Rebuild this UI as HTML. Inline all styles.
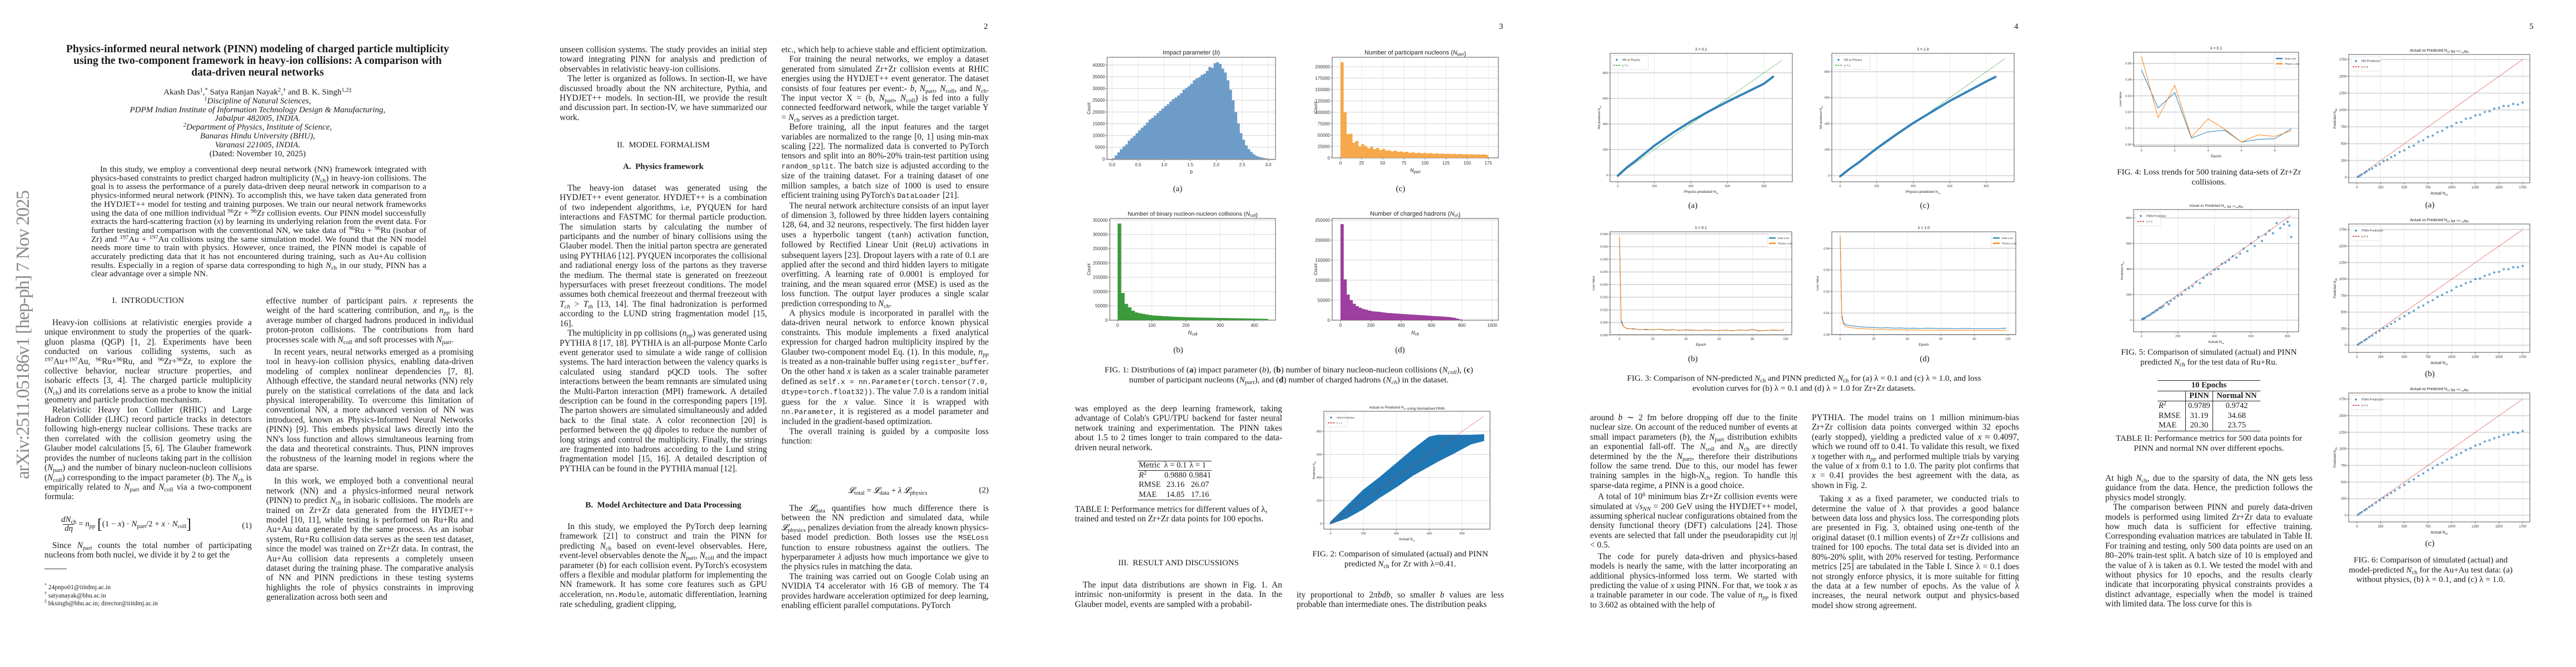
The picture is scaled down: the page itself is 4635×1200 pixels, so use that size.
<!DOCTYPE html>
<html><head><meta charset="utf-8"><title>PINN paper pages</title>
<style>
html,body{margin:0;padding:0;background:#fff;}
body{width:4635px;height:1200px;position:relative;overflow:hidden;font-family:"Liberation Serif",serif;color:#1a1a1a;}
.a{position:absolute;}
.col{position:absolute;width:373px;font-size:15.4px;line-height:17.4px;text-align:justify;overflow:hidden;}
.col p{margin:0;text-indent:14px;}
.col p.ni{text-indent:0;}
.h{position:absolute;width:373px;text-align:center;font-size:15px;}
.cap{position:absolute;text-align:center;font-size:15.2px;line-height:17.5px;}
.pn{position:absolute;top:40px;font-size:15px;}
.fl{position:absolute;font-size:15px;text-align:center;width:40px;}
i{font-style:italic;}
sub{font-size:70%;vertical-align:-3px;line-height:0;}
sup{font-size:70%;vertical-align:5px;line-height:0;}
code{font-family:"Liberation Mono",monospace;font-size:13px;}
table.t{position:absolute;border-collapse:collapse;font-size:14.5px;line-height:15.6px;}
</style></head>
<body>

<!-- PAGE 1 -->
<svg class="a" style="left:0;top:0" width="70" height="1200"><text x="52" y="862" transform="rotate(-90 52 862)" font-family="Liberation Serif,serif" font-size="34" fill="#8a8a8a" textLength="520" lengthAdjust="spacing">arXiv:2511.05186v1  [hep-ph]  7 Nov 2025</text></svg>
<div class="a" style="left:60px;top:78px;width:807px;text-align:center;font-size:19.5px;line-height:21px;font-weight:bold;">Physics-informed neural network (PINN) modeling of charged particle multiplicity<br>using the two-component framework in heavy-ion collisions: A comparison with<br>data-driven neural networks</div>
<div class="a" style="left:60px;top:159px;width:807px;text-align:center;font-size:15px;line-height:15.8px;">Akash Das<sup>1</sup>,<sup>*</sup> Satya Ranjan Nayak<sup>2</sup>,<sup>†</sup> and B. K. Singh<sup>1,2‡</sup><br><i><sup>1</sup>Discipline of Natural Sciences,</i><br><i>PDPM Indian Institute of Information Technology Design &amp; Manufacturing,</i><br><i>Jabalpur 482005, INDIA.</i><br><i><sup>2</sup>Department of Physics, Institute of Science,</i><br><i>Banaras Hindu University (BHU),</i><br><i>Varanasi 221005, INDIA.</i><br>(Dated: November 10, 2025)</div>
<div class="a" style="left:164px;top:297px;width:603px;font-size:15.2px;line-height:15.7px;text-align:justify;text-indent:16px;height:205px;overflow:hidden;">In this study, we employ a conventional deep neural network (NN) framework integrated with physics-based constraints to predict charged hadron multiplicity (<i>N</i><sub>ch</sub>) in heavy-ion collisions. The goal is to assess the performance of a purely data-driven deep neural network in comparison to a physics-informed neural network (PINN). To accomplish this, we have taken data generated from the HYDJET++ model for testing and training purposes. We train our neural network frameworks using the data of one million individual <sup>96</sup>Zr + <sup>96</sup>Zr collision events. Our PINN model successfully extracts the hard-scattering fraction (<i>x</i>) by learning its underlying relation from the event data. For further testing and comparison with the conventional NN, we take data of <sup>96</sup>Ru + <sup>96</sup>Ru (isobar of Zr) and <sup>197</sup>Au + <sup>197</sup>Au collisions using the same simulation model. We found that the NN model needs more time to train with physics. However, once trained, the PINN model is capable of accurately predicting data that it has not encountered during training, such as Au+Au collision results. Especially in a region of sparse data corresponding to high <i>N</i><sub>ch</sub> in our study, PINN has a clear advantage over a simple NN.</div>

<div class="h" style="left:80px;top:533px;">I.&nbsp; INTRODUCTION</div>
<div class="col" style="left:80px;top:572px;height:331px;">
<p>Heavy-ion collisions at relativistic energies provide a unique environment to study the properties of the quark-gluon plasma (QGP) [1, 2]. Experiments have been conducted on various colliding systems, such as <sup>197</sup>Au+<sup>197</sup>Au, <sup>96</sup>Ru+<sup>96</sup>Ru, and <sup>96</sup>Zr+<sup>96</sup>Zr, to explore the collective behavior, nuclear structure properties, and isobaric effects [3, 4]. The charged particle multiplicity (<i>N</i><sub>ch</sub>) and its correlations serve as a probe to know the initial geometry and particle production mechanism.</p>
<p>Relativistic Heavy Ion Collider (RHIC) and Large Hadron Collider (LHC) record particle tracks in detectors following high-energy nuclear collisions. These tracks are then correlated with the collision geometry using the Glauber model calculations [5, 6]. The Glauber framework provides the number of nucleons taking part in the collision (<i>N</i><sub>part</sub>) and the number of binary nucleon-nucleon collisions (<i>N</i><sub>coll</sub>) corresponding to the impact parameter (<i>b</i>). The <i>N</i><sub>ch</sub> is empirically related to <i>N</i><sub>part</sub> and <i>N</i><sub>coll</sub> via a two-component formula:</p></div>
<div class="a" style="left:110px;top:928px;width:343px;font-size:15px;"><span style="display:inline-block;text-align:center;vertical-align:middle;line-height:15px;"><i>dN</i><sub>ch</sub><br><span style="border-top:1px solid #222;display:inline-block;padding:0 3px;"><i>dη</i></span></span> = <i>n<sub>pp</sub></i> <span style="font-size:26px;vertical-align:middle;">[</span>(1 − <i>x</i>) · <i>N</i><sub>part</sub>/2 + <i>x</i> · <i>N</i><sub>coll</sub><span style="font-size:26px;vertical-align:middle;">]</span><span style="position:absolute;right:0;top:10px;">(1)</span></div>
<div class="col" style="left:80px;top:973px;height:35px;"><p>Since <i>N</i><sub>part</sub> counts the total number of participating nucleons from both nuclei, we divide it by 2 to get the</p></div>
<div class="a" style="left:80px;top:1023px;width:40px;border-top:1px solid #333;"></div>
<div class="a" style="left:80px;top:1050px;font-size:11.5px;line-height:14.5px;"><sup>*</sup> 24pnpo01@iiitdmj.ac.in<br><sup>†</sup> satyanayak@bhu.ac.in<br><sup>‡</sup> bksingh@bhu.ac.in; director@iiitdmj.ac.in</div>
<div class="col" style="left:479px;top:533px;height:569px;">
<p class="ni">effective number of participant pairs. <i>x</i> represents the weight of the hard scattering contribution, and <i>n<sub>pp</sub></i> is the average number of charged hadrons produced in individual proton-proton collisions. The contributions from hard processes scale with <i>N</i><sub>coll</sub> and soft processes with <i>N</i><sub>part</sub>.</p>
<p style="margin-top:5px">In recent years, neural networks emerged as a promising tool in heavy-ion collision physics, enabling data-driven modeling of complex nonlinear dependencies [7, 8]. Although effective, the standard neural networks (NN) rely purely on the statistical correlations of the data and lack physical interoperability. To overcome this limitation of conventional NN, a more advanced version of NN was introduced, known as Physics-Informed Neural Networks (PINN) [9]. This embeds physical laws directly into the NN's loss function and allows simultaneous learning from the data and theoretical constraints. Thus, PINN improves the robustness of the learning model in regions where the data are sparse.</p>
<p style="margin-top:6px">In this work, we employed both a conventional neural network (NN) and a physics-informed neural network (PINN) to predict <i>N</i><sub>ch</sub> in isobaric collisions. The models are trained on Zr+Zr data generated from the HYDJET++ model [10, 11], while testing is performed on Ru+Ru and Au+Au data generated by the same process. As an isobar system, Ru+Ru collision data serves as the seen test dataset, since the model was trained on Zr+Zr data. In contrast, the Au+Au collision data represents a completely unseen dataset during the training phase. The comparative analysis of NN and PINN predictions in these testing systems highlights the role of physics constraints in improving generalization across both seen and</p></div>

<!-- PAGE 2 -->
<div class="pn" style="left:1770px;">2</div>
<div class="col" style="left:1007px;top:81px;height:140px;">
<p class="ni">unseen collision systems. The study provides an initial step toward integrating PINN for analysis and prediction of observables in relativistic heavy-ion collisions.</p>
<p>The letter is organized as follows. In section-II, we have discussed broadly about the NN architecture, Pythia, and HYDJET++ models. In section-III, we provide the result and discussion part. In section-IV, we have summarized our work.</p></div>
<div class="h" style="left:1007px;top:253px;">II.&nbsp; MODEL FORMALISM</div>
<div class="h" style="left:1007px;top:292px;font-weight:bold;">A.&nbsp; Physics framework</div>
<div class="col" style="left:1007px;top:330px;height:540px;">
<p>The heavy-ion dataset was generated using the HYDJET++ event generator. HYDJET++ is a combination of two independent algorithms, i.e, PYQUEN for hard interactions and FASTMC for thermal particle production. The simulation starts by calculating the number of participants and the number of binary collisions using the Glauber model. Then the initial parton spectra are generated using PYTHIA6 [12]. PYQUEN incorporates the collisional and radiational energy loss of the partons as they traverse the medium. The thermal state is generated on freezeout hypersurfaces with preset freezeout conditions. The model assumes both chemical freezeout and thermal freezeout with <i>T<sub>ch</sub></i> &gt; <i>T<sub>th</sub></i> [13, 14]. The final hadronization is performed according to the LUND string fragmentation model [15, 16].</p>
<p>The multiplicity in pp collisions (<i>n<sub>pp</sub></i>) was generated using PYTHIA 8 [17, 18]. PYTHIA is an all-purpose Monte Carlo event generator used to simulate a wide range of collision systems. The hard interaction between the valency quarks is calculated using standard pQCD tools. The softer interactions between the beam remnants are simulated using the Multi-Parton interaction (MPI) framework. A detailed description can be found in the corresponding papers [19]. The parton showers are simulated simultaneously and added back to the final state. A color reconnection [20] is performed between the <i>qq̄</i> dipoles to reduce the number of long strings and control the multiplicity. Finally, the strings are fragmented into hadrons according to the Lund string fragmentation model [15, 16]. A detailed description of PYTHIA can be found in the PYTHIA manual [12].</p></div>
<div class="h" style="left:1007px;top:901px;font-weight:bold;">B.&nbsp; Model Architecture and Data Processing</div>
<div class="col" style="left:1007px;top:939px;height:159px;">
<p>In this study, we employed the PyTorch deep learning framework [21] to construct and train the PINN for predicting <i>N</i><sub>ch</sub> based on event-level observables. Here, event-level observables denote the <i>N</i><sub>part</sub>, <i>N</i><sub>coll</sub> and the impact parameter (<i>b</i>) for each collision event. PyTorch's ecosystem offers a flexible and modular platform for implementing the NN framework. It has some core features such as GPU acceleration, <code>nn.Module</code>, automatic differentiation, learning rate scheduling, gradient clipping,</p></div>
<div class="col" style="left:1406px;top:81px;height:765px;">
<p class="ni">etc., which help to achieve stable and efficient optimization.</p>
<p>For training the neural networks, we employ a dataset generated from simulated Zr+Zr collision events at RHIC energies using the HYDJET++ event generator. The dataset consists of four features per event:- <i>b</i>, <i>N</i><sub>part</sub>, <i>N</i><sub>coll</sub>, and <i>N</i><sub>ch</sub>. The input vector X = (b, <i>N</i><sub>part</sub>, <i>N</i><sub>coll</sub>) is fed into a fully connected feedforward network, while the target variable Y = <i>N</i><sub>ch</sub> serves as a prediction target.</p>
<p>Before training, all the input features and the target variables are normalized to the range [0, 1] using min-max scaling [22]. The normalized data is converted to PyTorch tensors and split into an 80%-20% train-test partition using <code>random_split</code>. The batch size is adjusted according to the size of the training dataset. For a training dataset of one million samples, a batch size of 1000 is used to ensure efficient training using PyTorch's <code>DataLoader</code> [21].</p>
<p>The neural network architecture consists of an input layer of dimension 3, followed by three hidden layers containing 128, 64, and 32 neurons, respectively. The first hidden layer uses a hyperbolic tangent (<code>tanh</code>) activation function, followed by Rectified Linear Unit (<code>ReLU</code>) activations in subsequent layers [23]. Dropout layers with a rate of 0.1 are applied after the second and third hidden layers to mitigate overfitting. A learning rate of 0.0001 is employed for training, and the mean squared error (MSE) is used as the loss function. The output layer produces a single scalar prediction corresponding to <i>N</i><sub>ch</sub>.</p>
<p>A physics module is incorporated in parallel with the data-driven neural network to enforce known physical constraints. This module implements a fixed analytical expression for charged hadron multiplicity inspired by the Glauber two-component model Eq. (1). In this module, <i>n<sub>pp</sub></i> is treated as a non-trainable buffer using <code>register_buffer</code>. On the other hand <i>x</i> is taken as a scaler trainable parameter defined as <code>self.x = nn.Parameter(torch.tensor(7.0, dtype=torch.float32))</code>. The value 7.0 is a random initial guess for the <i>x</i> value. Since it is wrapped with <code>nn.Parameter</code>, it is registered as a model parameter and included in the gradient-based optimization.</p>
<p>The overall training is guided by a composite loss function:</p></div>
<div class="a" style="left:1406px;top:874px;width:373px;font-size:15px;"><span style="position:absolute;left:120px;"><i>𝓛</i><sub>total</sub> = <i>𝓛</i><sub>data</sub> + <i>λ 𝓛</i><sub>physics</sub></span><span style="position:absolute;right:0;">(2)</span></div>
<div class="col" style="left:1406px;top:906px;height:192px;">
<p>The <i>𝓛</i><sub>data</sub> quantifies how much difference there is between the NN prediction and simulated data, while <i>𝓛</i><sub>physics</sub> penalizes deviation from the already known physics-based model prediction. Both losses use the <code>MSELoss</code> function to ensure robustness against the outliers. The hyperparameter <i>λ</i> adjusts how much importance we give to the physics rules in matching the data.</p>
<p>The training was carried out on Google Colab using an NVIDIA T4 accelerator with 16 GB of memory. The T4 provides hardware acceleration optimized for deep learning, enabling efficient parallel computations. PyTorch</p></div>

<!-- PAGE 3 -->
<div class="pn" style="left:2697px;">3</div>
<div class="fl" style="left:2099px;top:332px;">(a)</div>
<div class="fl" style="left:2500px;top:332px;">(c)</div>
<div class="fl" style="left:2100px;top:622px;">(b)</div>
<div class="fl" style="left:2499px;top:622px;">(d)</div>
<div class="cap" style="left:1924px;top:657px;width:790px;">FIG. 1: Distributions of (<b>a</b>) impact parameter (<i>b</i>), (<b>b</b>) number of binary nucleon-nucleon collisions (<i>N<sub>coll</sub></i>), (<b>c</b>)<br>number of participant nucleons (<i>N<sub>part</sub></i>), and (<b>d</b>) number of charged hadrons (<i>N<sub>ch</sub></i>) in the dataset.</div>
<div class="col" style="left:1934px;top:727px;height:88px;"><p class="ni">was employed as the deep learning framework, taking advantage of Colab's GPU/TPU backend for faster neural network training and experimentation. The PINN takes about 1.5 to 2 times longer to train compared to the data-driven neural network.</p></div>
<table class="t" style="left:2047px;top:829px;border-top:1px solid #222;border-bottom:1px solid #222;">
<tr style="border-bottom:1px solid #222;"><td style="padding:0 4px 0 2px;">Metric</td><td style="padding:0 3px;">λ = 0.1</td><td style="padding:0 2px;">λ = 1</td></tr>
<tr><td style="padding:0 2px;"><i>R</i><sup>2</sup></td><td style="text-align:center;">0.9880</td><td style="text-align:center;">0.9841</td></tr>
<tr><td style="padding:0 2px;">RMSE</td><td style="text-align:center;">23.16</td><td style="text-align:center;">26.07</td></tr>
<tr><td style="padding:0 2px;">MAE</td><td style="text-align:center;">14.85</td><td style="text-align:center;">17.16</td></tr></table>
<div class="col" style="left:1934px;top:908px;height:36px;text-align:left;"><p class="ni">TABLE I: Performance metrics for different values of λ, trained and tested on Zr+Zr data points for 100 epochs.</p></div>
<div class="h" style="left:1934px;top:1005px;">III.&nbsp; RESULT AND DISCUSSIONS</div>
<div class="col" style="left:1934px;top:1044px;height:54px;"><p>The input data distributions are shown in Fig. 1. An intrinsic non-uniformity is present in the data. In the Glauber model, events are sampled with a probabil-</p></div>
<div class="cap" style="left:2333px;top:988px;width:373px;">FIG. 2: Comparison of simulated (actual) and PINN<br>predicted <i>N</i><sub>ch</sub> for Zr with λ=0.41.</div>
<div class="col" style="left:2333px;top:1062px;height:36px;"><p class="ni">ity proportional to 2<i>πbdb</i>, so smaller <i>b</i> values are less probable than intermediate ones. The distribution peaks</p></div>

<!-- PAGE 4 -->
<div class="pn" style="left:3624px;">4</div>
<div class="fl" style="left:3026px;top:362px;">(a)</div>
<div class="fl" style="left:3443px;top:362px;">(c)</div>
<div class="fl" style="left:3026px;top:638px;">(b)</div>
<div class="fl" style="left:3443px;top:638px;">(d)</div>
<div class="cap" style="left:2851px;top:672px;width:790px;">FIG. 3: Comparison of NN-predicted <i>N</i><sub>ch</sub> and PINN predicted <i>N</i><sub>ch</sub> for (a) λ = 0.1 and (c) λ = 1.0, and loss<br>evolution curves for (b) λ = 0.1 and (d) λ = 1.0 for Zr+Zr datasets.</div>
<div class="col" style="left:2861px;top:743px;height:356px;">
<p class="ni">around <i>b</i> ∼ 2 fm before dropping off due to the finite nuclear size. On account of the reduced number of events at small impact parameters (<i>b</i>), the <i>N</i><sub>part</sub> distribution exhibits an exponential fall-off. The <i>N</i><sub>coll</sub> and <i>N</i><sub>ch</sub> are directly determined by the the <i>N</i><sub>part</sub>, therefore their distributions follow the same trend. Due to this, our model has fewer training samples in the high-<i>N</i><sub>ch</sub> region. To handle this sparse-data regime, a PINN is a good choice.</p>
<p style="margin-top:3px">A total of 10<sup>6</sup> minimum bias Zr+Zr collision events were simulated at √<i>s<sub>NN</sub></i> = 200 GeV using the HYDJET++ model, assuming spherical nuclear configurations obtained from the density functional theory (DFT) calculations [24]. Those events are selected that fall under the pseudorapidity cut |<i>η</i>| &lt; 0.5.</p>
<p style="margin-top:3px">The code for purely data-driven and physics-based models is nearly the same, with the latter incorporating an additional physics-informed loss term. We started with predicting the value of <i>x</i> using PINN. For that, we took <i>x</i> as a trainable parameter in our code. The value of <i>n<sub>pp</sub></i> is fixed to 3.602 as obtained with the help of</p></div>
<div class="col" style="left:3260px;top:743px;height:356px;">
<p class="ni">PYTHIA. The model trains on 1 million minimum-bias Zr+Zr collision data points converged within 32 epochs (early stopped), yielding a predicted value of <i>x</i> ≈ 0.4097, which we round off to 0.41. To validate this result, we fixed <i>x</i> together with <i>n<sub>pp</sub></i> and performed multiple trials by varying the value of <i>x</i> from 0.1 to 1.0. The parity plot confirms that <i>x</i> = 0.41 provides the best agreement with the data, as shown in Fig. 2.</p>
<p style="margin-top:7px">Taking <i>x</i> as a fixed parameter, we conducted trials to determine the value of λ that provides a good balance between data loss and physics loss. The corresponding plots are presented in Fig. 3, obtained using one-tenth of the original dataset (0.1 million events) of Zr+Zr collisions and trained for 100 epochs. The total data set is divided into an 80%-20% split, with 20% reserved for testing. Performance metrics [25] are tabulated in the Table I. Since λ = 0.1 does not strongly enforce physics, it is more suitable for fitting the data at a few number of epochs. As the value of λ increases, the neural network output and physics-based model show strong agreement.</p></div>

<!-- PAGE 5 -->
<div class="pn" style="left:4551px;">5</div>
<div class="cap" style="left:3778px;top:301px;width:393px;">FIG. 4: Loss trends for 500 training data-sets of Zr+Zr<br>collisions.</div>
<div class="cap" style="left:3778px;top:625px;width:393px;">FIG. 5: Comparison of simulated (actual) and PINN<br>predicted <i>N</i><sub>ch</sub> for the test data of Ru+Ru.</div>
<table class="t" style="left:3882px;top:684px;border-top:1px solid #222;border-bottom:1px solid #222;width:185px;">
<tr style="border-bottom:1px solid #222;"><td colspan="3" style="text-align:center;font-weight:bold;">10 Epochs</td></tr>
<tr style="border-bottom:1px solid #222;"><td style="border-right:1px solid #222;"></td><td style="border-right:1px solid #222;text-align:center;font-weight:bold;">PINN</td><td style="text-align:center;font-weight:bold;">Normal NN</td></tr>
<tr><td style="border-right:1px solid #222;padding:0 2px;"><i>R</i><sup>2</sup></td><td style="border-right:1px solid #222;text-align:center;">0.9789</td><td style="text-align:center;">0.9742</td></tr>
<tr><td style="border-right:1px solid #222;padding:0 2px;">RMSE</td><td style="border-right:1px solid #222;text-align:center;">31.19</td><td style="text-align:center;">34.68</td></tr>
<tr><td style="border-right:1px solid #222;padding:0 2px;">MAE</td><td style="border-right:1px solid #222;text-align:center;">20.30</td><td style="text-align:center;">23.75</td></tr></table>
<div class="cap" style="left:3778px;top:780px;width:393px;">TABLE II: Performance metrics for 500 data points for<br>PINN and normal NN over different epochs.</div>
<div class="col" style="left:3788px;top:852px;height:247px;">
<p class="ni">At high <i>N</i><sub>ch</sub>, due to the sparsity of data, the NN gets less guidance from the data. Hence, the prediction follows the physics model strongly.</p>
<p>The comparison between PINN and purely data-driven models is performed using limited Zr+Zr data to evaluate how much data is sufficient for effective training. Corresponding evaluation matrices are tabulated in Table II. For training and testing, only 500 data points are used on an 80–20% train-test split. A batch size of 10 is employed and the value of λ is taken as 0.1. We tested the model with and without physics for 10 epochs, and the results clearly indicate that incorporating physical constraints provides a distinct advantage, especially when the model is trained with limited data. The loss curve for this is</p></div>
<div class="fl" style="left:4352px;top:361px;">(a)</div>
<div class="fl" style="left:4352px;top:665px;">(b)</div>
<div class="fl" style="left:4352px;top:970px;">(c)</div>
<div class="cap" style="left:4182px;top:999px;width:383px;">FIG. 6: Comparison of simulated (actual) and<br>model-predicted <i>N</i><sub>ch</sub> for the Au+Au test data: (a)<br>without physics, (b) λ = 0.1, and (c) λ = 1.0.</div>

<svg id="charts" class="a" style="left:0;top:0" width="4635" height="1200"></svg>

<script>
// ---------- DATA ----------
const impactBinWidth = 0.05;
const impactCounts = [300,1500,2800,4200,5300,6200,7800,8800,9700,11000,12200,13300,14300,15500,16800,17500,18500,19500,20500,21500,22500,23300,24500,25500,26200,27000,28000,29500,30200,31000,32000,33500,34300,34800,35800,36300,37500,39200,38800,40800,41200,40500,38500,36800,33500,29500,25000,20000,15200,11000,8200,5800,4200,3000,2000,1300,900,600,400,200];
const ncollBinWidth = 10;
const ncollCounts = [338000,95000,57000,45000,33000,27000,24000,22000,20000,18000,16500,15500,15000,14000,13500,12500,12000,11500,11000,10500,10000,9800,9500,9200,9000,8800,8500,8300,8000,7800,7600,7400,7200,7000,6800,6500,6300,6000,5800,5500,5200,5000,4800,4500];
const npartBinWidth = 3.5;
const npartCounts = [210000,100000,52000,53000,33000,37000,25000,30000,26000,21000,24000,19000,22000,17000,20000,16000,16500,14000,16000,13000,14000,12000,13500,11000,12000,10500,11500,10000,11000,9500,10500,9000,10000,9000,9500,8500,9000,8000,9000,8000,8500,7500,8000,7500,8000,7000,7500,7000,7500,6500];
const nchBinWidth = 20;
const nchCounts = [240000,102000,64000,50000,41000,35000,31000,28000,26000,24000,22500,21500,21000,20000,19000,18000,17500,17000,16500,16000,15500,15000,14500,14000,13500,13000,12500,12000,11500,11000,10500,10000,9500,9000,8500,8000,7000,6000,4000,2000,600,200];

// Fig 2 band (Zr, lambda=0.41)
const zrBandX = [0,100,200,300,400,500,600,650,760,850,930];
const zrBandUpper = [12,150,290,400,520,640,750,765,765,765,770];
const zrBandLower = [0,50,130,230,320,420,500,540,620,690,720];
// Fig 3 NN vs physics curves
const physX = [0,50,100,200,300,400,500,600,700,800,850];
const nnLam01 = [-5,60,115,230,330,420,500,575,645,715,770];
const nnLam10 = [-5,50,100,210,310,405,490,575,650,725,760];
// Fig 3 loss curves
const lossEpochs = [0,1,2,3,4,6,8,12,16,20,24,28,32,36,40,44,48,52,56,60,64,68,72,76,80,84,88,92,96,99];
const dataLoss01 = [0.039,0.006,0.004,0.0031,0.0027,0.0025,0.0026,0.0022,0.0023,0.0021,0.0024,0.0020,0.0022,0.0019,0.0021,0.0020,0.0018,0.0021,0.0019,0.0018,0.0020,0.0017,0.0021,0.0018,0.0022,0.0017,0.0019,0.0020,0.0018,0.0021];
const physLoss01 = [0.039,0.005,0.0038,0.0030,0.0028,0.0026,0.0024,0.0023,0.0021,0.0022,0.0023,0.0019,0.0021,0.0020,0.0020,0.0019,0.0019,0.0020,0.0018,0.0019,0.0019,0.0018,0.0020,0.0019,0.0023,0.0018,0.0018,0.0021,0.0019,0.0020];
const dataLoss10 = [0.046,0.009,0.0055,0.0048,0.0045,0.0042,0.0040,0.0036,0.0034,0.0033,0.0031,0.0032,0.0030,0.0031,0.0029,0.0030,0.0028,0.0030,0.0029,0.0028,0.0029,0.0027,0.0028,0.0029,0.0027,0.0028,0.0028,0.0027,0.0029,0.0030];
const physLoss10 = [0.046,0.008,0.0048,0.0040,0.0036,0.0033,0.0031,0.0028,0.0026,0.0025,0.0024,0.0023,0.0022,0.0023,0.0021,0.0022,0.0020,0.0021,0.0021,0.0020,0.0021,0.0019,0.0020,0.0021,0.0019,0.0020,0.0020,0.0019,0.0020,0.0021];
// Fig 4 loss trends
const fig4Epochs = [0,1,2,3,4,5,6,7,8,9];
const fig4Data = [0.046,0.0225,0.032,0.004,0.0078,0.0088,0.0015,0.0032,0.0036,0.0098];
const fig4Phys = [0.0545,0.0165,0.0365,0.0045,0.0158,0.0095,0.0015,0.006,0.005,0.0085];
// Fig 5 Ru scatter
const ruActual = [5,10,15,20,30,40,50,60,70,80,90,100,110,120,140,150,160,180,200,220,240,260,280,300,320,340,360,380,400,420,440,460,480,500,520,540,560,580,600,620,640,660,680,700,720,740,760,780,800,810,820];
const ruPred = [8,12,14,18,28,35,44,55,62,75,80,95,98,110,140,125,150,170,190,200,235,250,265,300,290,330,355,360,395,400,440,450,470,500,490,520,560,540,600,580,650,620,670,700,680,760,720,750,770,740,650];
// Fig 6 Au scatter
const auActual = [10,30,50,80,100,130,160,200,240,280,320,360,400,450,500,550,600,650,700,750,800,850,900,950,1000,1050,1100,1150,1200,1250,1300,1350,1400,1450,1500,1550,1600,1650,1700,1750];
const auPredNN = [8,25,42,65,85,115,130,170,195,240,260,300,325,375,400,450,470,530,550,600,620,670,690,740,760,810,820,870,880,920,930,970,980,1020,1030,1060,1060,1090,1080,1110];
const auPredL01 = [9,28,46,72,90,122,145,185,215,255,285,320,355,400,440,485,520,570,600,650,680,730,760,800,830,880,900,940,960,1000,1010,1050,1070,1100,1110,1150,1150,1180,1180,1200];
const auPredL10 = [9,28,47,74,93,125,150,190,225,265,300,335,370,415,455,505,540,595,630,680,710,760,790,840,870,910,940,980,1010,1050,1070,1110,1130,1160,1180,1210,1220,1250,1240,1270];

// ---------- DRAWING ----------
const NS = 'http://www.w3.org/2000/svg';
const svg = document.getElementById('charts');
function mk(tag, attrs, parent, name) {
  const e = document.createElementNS(NS, tag);
  for (const k in attrs) e.setAttribute(k, attrs[k]);
  
  
  parent.appendChild(e);
  return e;
}
function plot(c) {
  const g = mk('g', {}, svg, c.name);
  const [l, t, r, b] = c.box;
  const X = v => c.xm[1] + (v - c.xm[0]) * (c.xm[3] - c.xm[1]) / (c.xm[2] - c.xm[0]);
  const Y = v => c.ym[1] + (v - c.ym[0]) * (c.ym[3] - c.ym[1]) / (c.ym[2] - c.ym[0]);
  const fs = c.fs;
  mk('rect', {x: l, y: t, width: r - l, height: b - t, fill: '#fff'}, g, 'plot-area');
  c.xt.forEach((v, i) => {
    const px = X(v);
    mk('line', {x1: px, x2: px, y1: t, y2: b, stroke: '#e2e2e2', 'stroke-width': 0.8}, g, 'x-gridline');
    mk('line', {x1: px, x2: px, y1: b, y2: b + 3, stroke: '#444', 'stroke-width': 0.7}, g, 'x-tick');
    const tx = mk('text', {x: px, y: b + 4 + fs, 'font-size': fs, 'text-anchor': 'middle', fill: '#333'}, g, 'x-tick-label');
    tx.textContent = c.xl[i];
  });
  c.yt.forEach((v, i) => {
    const py = Y(v);
    mk('line', {x1: l, x2: r, y1: py, y2: py, stroke: '#dcdcdc', 'stroke-width': c.hg || 1.2}, g, 'y-gridline');
    mk('line', {x1: l - 3, x2: l, y1: py, y2: py, stroke: '#444', 'stroke-width': 0.7}, g, 'y-tick');
    const ty = mk('text', {x: l - 4, y: py + fs * 0.35, 'font-size': fs, 'text-anchor': 'end', fill: '#333'}, g, 'y-tick-label');
    ty.textContent = c.yl[i];
  });
  mk('rect', {x: l, y: t, width: r - l, height: b - t, fill: 'none', stroke: '#555', 'stroke-width': 1}, g, 'plot-frame');
  const ti = mk('text', {x: (l + r) / 2, y: t - 5, 'font-size': c.tfs, 'text-anchor': 'middle', fill: '#222'}, g, 'plot-title');
  ti.innerHTML = c.title;
  const xa = mk('text', {x: (l + r) / 2, y: b + 8 + fs * 2.2, 'font-size': fs + 1, 'text-anchor': 'middle', fill: '#222'}, g, 'x-axis-title');
  xa.innerHTML = c.xlabel;
  const yx = c.yx || (l - 34), yy = (t + b) / 2;
  const ya = mk('text', {x: yx, y: yy, 'font-size': fs, 'text-anchor': 'middle', fill: '#222', transform: 'rotate(-90 ' + yx + ' ' + yy + ')'}, g, 'y-axis-title');
  ya.innerHTML = c.ylabel;
  return {g, X, Y, l, t, r, b, fs};
}
function hist(p, counts, w, color, name) {
  counts.forEach((v, i) => {
    const x0 = p.X(i * w), x1 = p.X((i + 1) * w);
    mk('rect', {x: x0, y: p.Y(v), width: x1 - x0 + 0.3, height: p.Y(0) - p.Y(v), fill: color}, p.g, name);
  });
}
function line(p, xs, ys, style, name) {
  const pts = xs.map((x, i) => p.X(x).toFixed(1) + ',' + p.Y(ys[i]).toFixed(1)).join(' ');
  const a = {points: pts, fill: 'none'};
  for (const k in style) a[k] = style[k];
  return mk('polyline', a, p.g, name);
}
function dots(p, xs, ys, name) {
  xs.forEach((x, i) => {
    mk('circle', {cx: p.X(x), cy: p.Y(ys[i]), r: 2.1, fill: '#1f77b4', 'fill-opacity': 0.65}, p.g, name);
  });
}
function legend(p, x, y, w, items, fs) {
  const g = mk('g', {}, p.g, 'legend');
  mk('rect', {x: x, y: y, width: w, height: items.length * (fs + 5) + 5, fill: '#fff', stroke: '#ddd', 'stroke-width': 0.8, rx: 2}, g, 'legend-box');
  items.forEach((it, i) => {
    const cy = y + 5 + i * (fs + 5) + fs / 2;
    if (it.type === 'dot') mk('circle', {cx: x + 9, cy: cy, r: 1.6, fill: it.color}, g, 'legend-marker');
    else mk('line', {x1: x + 3, x2: x + 15, y1: cy, y2: cy, stroke: it.color, 'stroke-width': it.type === 'dash' ? 1.4 : 2.2, 'stroke-dasharray': it.type === 'dash' ? '3,1.5' : 'none'}, g, 'legend-swatch');
    const t = mk('text', {x: x + 19, y: cy + fs * 0.35, 'font-size': fs, fill: '#333'}, g, 'legend-label');
    t.textContent = it.label;
  });
}
const sub = (s, f) => '<tspan font-size="' + f + '" dy="2">' + s + '</tspan><tspan dy="-2"></tspan>';
svg.setAttribute('font-family', 'Liberation Sans, sans-serif');

// Fig 1 histograms
let p = plot({name: 'hist-impact-parameter', box: [1992, 103, 2295, 287], xm: [0, 2001, 3, 2282], ym: [0, 286, 40000, 117], fs: 8,
  xt: [0, 0.5, 1, 1.5, 2, 2.5, 3], xl: ['0.0', '0.5', '1.0', '1.5', '2.0', '2.5', '3.0'],
  yt: [0, 5000, 10000, 15000, 20000, 25000, 30000, 35000, 40000], yl: ['0', '5000', '10000', '15000', '20000', '25000', '30000', '35000', '40000'],
  title: 'Impact parameter (<tspan font-style="italic">b</tspan>)', tfs: 11, xlabel: '<tspan font-style="italic">b</tspan>', ylabel: 'Count', yx: 1962});
hist(p, impactCounts, impactBinWidth, '#6e9cc8', 'impact-bar');

p = plot({name: 'hist-ncoll', box: [1997, 393, 2295, 576], xm: [0, 2011, 400, 2257], ym: [0, 576, 350000, 396], fs: 8,
  xt: [0, 100, 200, 300, 400], xl: ['0', '100', '200', '300', '400'],
  yt: [0, 50000, 100000, 150000, 200000, 250000, 300000, 350000], yl: ['0', '50000', '100000', '150000', '200000', '250000', '300000', '350000'],
  title: 'Number of binary nucleon-nucleon collisions (<tspan font-style="italic">N</tspan>' + sub('coll', 7) + ')', tfs: 10.5, xlabel: '<tspan font-style="italic">N</tspan>' + sub('coll', 7), ylabel: 'Count', yx: 1962});
hist(p, ncollCounts, ncollBinWidth, '#3c9a3c', 'ncoll-bar');

p = plot({name: 'hist-npart', box: [2397, 103, 2696, 284], xm: [0, 2412, 175, 2678], ym: [0, 284, 200000, 120], fs: 8,
  xt: [0, 25, 50, 75, 100, 125, 150, 175], xl: ['0', '25', '50', '75', '100', '125', '150', '175'],
  yt: [0, 25000, 50000, 75000, 100000, 125000, 150000, 175000, 200000], yl: ['0', '25000', '50000', '75000', '100000', '125000', '150000', '175000', '200000'],
  title: 'Number of participant nucleons (<tspan font-style="italic">N</tspan>' + sub('part', 7) + ')', tfs: 11, xlabel: '<tspan font-style="italic">N</tspan>' + sub('part', 7), ylabel: 'Count', yx: 2370});
hist(p, npartCounts, npartBinWidth, '#f6a84b', 'npart-bar');

p = plot({name: 'hist-nch', box: [2397, 393, 2696, 576], xm: [0, 2412, 1000, 2685], ym: [0, 576, 250000, 396], fs: 8,
  xt: [0, 200, 400, 600, 800, 1000], xl: ['0', '200', '400', '600', '800', '1000'],
  yt: [0, 50000, 100000, 150000, 200000, 250000], yl: ['0', '50000', '100000', '150000', '200000', '250000'],
  title: 'Number of charged hadrons (<tspan font-style="italic">N</tspan>' + sub('ch', 7) + ')', tfs: 11, xlabel: '<tspan font-style="italic">N</tspan>' + sub('ch', 7), ylabel: 'Count', yx: 2370});
hist(p, nchCounts, nchBinWidth, '#9c3f9e', 'nch-bar');

// Fig 2
p = plot({name: 'fig2-zr-scatter', box: [2382, 740, 2681, 952], xm: [0, 2394, 800, 2631], ym: [0, 942, 800, 776], fs: 5.5,
  xt: [0, 200, 400, 600, 800], xl: ['0', '200', '400', '600', '800'], yt: [0, 200, 400, 600, 800], yl: ['0', '200', '400', '600', '800'],
  title: 'Actual vs Predicted N' + sub('ch', 4) + ' using Normalized PINN', tfs: 6.5, xlabel: 'Actual N' + sub('ch', 4), ylabel: 'Predicted N' + sub('ch', 4), yx: 2366});
const bandPts = zrBandX.map((x, i) => p.X(x) + ',' + p.Y(zrBandUpper[i])).concat(zrBandX.slice().reverse().map((x, i) => p.X(x) + ',' + p.Y(zrBandLower[zrBandLower.length - 1 - i]))).join(' ');
mk('polygon', {points: bandPts, fill: '#1f77b4', stroke: '#1f77b4', 'stroke-width': 2}, p.g, 'pinn-prediction-band');
line(p, [0, 930], [0, 930], {stroke: '#d62728', 'stroke-width': 0.8, 'stroke-dasharray': '2,1.5'}, 'identity-line');
legend(p, 2386, 744, 38, [{type: 'dot', color: '#1f77b4', label: 'PINN Prediction'}, {type: 'dash', color: '#d62728', label: 'y = x'}], 4.5);

// Fig 3 a, c
[[2897, 2911, 131, 315, nnLam01, 'fig3a-nn-vs-physics', 'λ = 0.1'], [3296, 3311, 129, 316, nnLam10, 'fig3c-nn-vs-physics', 'λ = 1.0']].forEach(cfg => {
  const q = plot({name: cfg[5], box: [cfg[0], 96, cfg[0] + 328, 327], xm: [0, cfg[1], 800, cfg[1] + 263], ym: [0, cfg[3], 800, cfg[2]], fs: 5.5,
    xt: [0, 200, 400, 600, 800], xl: ['0', '200', '400', '600', '800'], yt: [0, 200, 400, 600, 800], yl: ['0', '200', '400', '600', '800'],
    title: cfg[6], tfs: 7, xlabel: 'Physics-predicted N' + sub('ch', 4), ylabel: 'NN-predicted N' + sub('ch', 4), yx: cfg[0] - 18, hg: 2});
  line(q, [0, 900], [0, 900], {stroke: '#2ca02c', 'stroke-width': 1, 'stroke-dasharray': '2,1.5'}, 'identity-line');
  line(q, physX, cfg[4], {stroke: '#1f77b4', 'stroke-width': 4, 'stroke-linecap': 'round', 'stroke-opacity': 0.9}, 'nn-vs-physics-curve');
  legend(q, cfg[0] + 3, 100, 66, [{type: 'dot', color: '#1f77b4', label: 'NN vs Physics'}, {type: 'dash', color: '#2ca02c', label: 'y = x'}], 5);
});
// Fig 3 b
p = plot({name: 'fig3b-loss', box: [2897, 417, 3224, 602], xm: [0, 2914, 100, 3213], ym: [0, 603, 0.04, 421], fs: 5.5,
  xt: [0, 20, 40, 60, 80, 100], xl: ['0', '20', '40', '60', '80', '100'],
  yt: [0, 0.005, 0.01, 0.015, 0.02, 0.025, 0.03, 0.035, 0.04], yl: ['0.000', '0.005', '0.010', '0.015', '0.020', '0.025', '0.030', '0.035', '0.040'],
  title: 'λ = 0.1', tfs: 7, xlabel: 'Epoch', ylabel: 'Loss Value', yx: 2869, hg: 2});
line(p, lossEpochs, dataLoss01, {stroke: '#1f77b4', 'stroke-width': 1}, 'data-loss-line');
line(p, lossEpochs, physLoss01, {stroke: '#ff7f0e', 'stroke-width': 1}, 'physics-loss-line');
legend(p, 3180, 421, 42, [{type: 'line', color: '#1f77b4', label: 'Data Loss'}, {type: 'line', color: '#ff7f0e', label: 'Physics Loss'}], 4.5);
// Fig 3 d
p = plot({name: 'fig3d-loss', box: [3296, 417, 3627, 602], xm: [0, 3311, 100, 3613], ym: [0, 602, 0.04, 447], fs: 5.5,
  xt: [0, 20, 40, 60, 80, 100], xl: ['0', '20', '40', '60', '80', '100'],
  yt: [0, 0.01, 0.02, 0.03, 0.04], yl: ['0.00', '0.01', '0.02', '0.03', '0.04'],
  title: 'λ = 1.0', tfs: 7, xlabel: 'Epoch', ylabel: 'Loss Value', yx: 3272, hg: 2});
line(p, lossEpochs, dataLoss10, {stroke: '#1f77b4', 'stroke-width': 1}, 'data-loss-line');
line(p, lossEpochs, physLoss10, {stroke: '#ff7f0e', 'stroke-width': 1}, 'physics-loss-line');
legend(p, 3583, 421, 42, [{type: 'line', color: '#1f77b4', label: 'Data Loss'}, {type: 'line', color: '#ff7f0e', label: 'Physics Loss'}], 4.5);

// Fig 4
p = plot({name: 'fig4-loss-trends', box: [3839, 94, 4136, 263], xm: [0, 3853, 8, 4093], ym: [0, 260, 0.05, 114], fs: 5.5,
  xt: [0, 2, 4, 6, 8], xl: ['0', '2', '4', '6', '8'], yt: [0, 0.01, 0.02, 0.03, 0.04, 0.05], yl: ['0.00', '0.01', '0.02', '0.03', '0.04', '0.05'],
  title: 'λ = 0.1', tfs: 7, xlabel: 'Epoch', ylabel: 'Loss Value', yx: 3817, hg: 2});
line(p, fig4Epochs, fig4Data, {stroke: '#1f77b4', 'stroke-width': 1}, 'data-loss-line');
line(p, fig4Epochs, fig4Phys, {stroke: '#ff7f0e', 'stroke-width': 1}, 'physics-loss-line');
legend(p, 4092, 98, 42, [{type: 'line', color: '#1f77b4', label: 'Data Loss'}, {type: 'line', color: '#ff7f0e', label: 'Physics Loss'}], 4.5);

// Fig 5
p = plot({name: 'fig5-ru-scatter', box: [3839, 377, 4136, 597], xm: [0, 3853, 800, 4116], ym: [0, 576, 800, 392], fs: 5.5,
  xt: [0, 200, 400, 600, 800], xl: ['0', '200', '400', '600', '800'], yt: [0, 200, 400, 600, 800], yl: ['0', '200', '400', '600', '800'],
  title: 'Actual vs Predicted N' + sub('ch', 4) + ' for ⁹⁶₄₄Ru', tfs: 6.5, xlabel: 'Actual N' + sub('ch', 4), ylabel: 'Predicted N' + sub('ch', 4), yx: 3820, hg: 2});
line(p, [0, 820], [0, 820], {stroke: '#d62728', 'stroke-width': 1, 'stroke-dasharray': '2,1.5'}, 'identity-line');
dots(p, ruActual, ruPred, 'ru-point');
legend(p, 3843, 381, 45, [{type: 'dot', color: '#1f77b4', label: 'PINN Prediction'}, {type: 'dash', color: '#d62728', label: 'y = x'}], 5);

// Fig 6
[[98, 329, 319, 107, auPredNN, 'fig6a-au-nn', 'NN Prediction'], [403, 634, 621, 413, auPredL01, 'fig6b-au-pinn-l01', 'PINN Prediction'], [707, 939, 927, 718, auPredL10, 'fig6c-au-pinn-l10', 'PINN Prediction']].forEach(cfg => {
  const q = plot({name: cfg[5], box: [4226, cfg[0], 4552, cfg[1]], xm: [0, 4241, 1750, 4539], ym: [0, cfg[2], 1750, cfg[3]], fs: 6,
    xt: [0, 250, 500, 750, 1000, 1250, 1500, 1750], xl: ['0', '250', '500', '750', '1000', '1250', '1500', '1750'],
    yt: [0, 250, 500, 750, 1000, 1250, 1500, 1750], yl: ['0', '250', '500', '750', '1000', '1250', '1500', '1750'],
    title: 'Actual vs Predicted N' + sub('ch', 4.5) + ' for ¹⁹⁷₇₉Au', tfs: 7, xlabel: 'Actual N' + sub('ch', 4.5), ylabel: 'Predicted N' + sub('ch', 4.5), yx: 4203, hg: 2});
  line(q, [0, 1750], [0, 1750], {stroke: '#d62728', 'stroke-width': 1, 'stroke-dasharray': '2,1.5'}, 'identity-line');
  dots(q, auActual, cfg[4], 'au-point');
  legend(q, 4230, cfg[0] + 4, 54, [{type: 'dot', color: '#1f77b4', label: cfg[6]}, {type: 'dash', color: '#d62728', label: 'y = x'}], 5.5);
});
</script>
</body></html>
